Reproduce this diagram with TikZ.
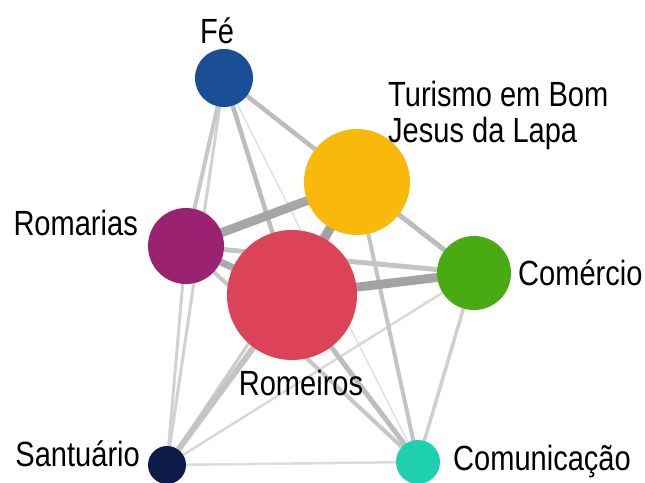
\documentclass[tikz,border=0pt]{standalone}
\usepackage{fontspec}
\setmainfont{Liberation Sans}[FakeStretch=0.83]
\usepackage{tikz}
\usetikzlibrary{backgrounds}
\usepackage{xcolor}
\definecolor{cfe}{HTML}{1A4F96}
\definecolor{ctur}{HTML}{F9B90A}
\definecolor{cria}{HTML}{9B2270}
\definecolor{crmo}{HTML}{DC4258}
\definecolor{ccme}{HTML}{4AAA12}
\definecolor{csan}{HTML}{0E1C4A}
\definecolor{ccmu}{HTML}{1ECFB0}

\begin{document}
\begin{tikzpicture}[x=1pt, y=-1pt,
    topic/.style={circle, inner sep=0pt, fill=#1},
    lbl/.style={inner sep=0pt, font=\fontsize{35}{36}\selectfont},
    tie/.style={line width=#1, line cap=butt}]
            \useasboundingbox (0,0) rectangle (645,482);
            % topics
            \node[topic=cfe, minimum size=58pt] (fe) at (224,78) {};
            \node[topic=ctur, minimum size=106pt] (tur) at (357,182) {};
            \node[topic=cria, minimum size=76pt] (ria) at (186,246) {};
            \node[topic=crmo, minimum size=130pt] (rmo) at (292,295) {};
            \node[topic=ccme, minimum size=74pt] (cme) at (474,273) {};
            \node[topic=csan, minimum size=38pt] (san) at (167,465) {};
            \node[topic=ccmu, minimum size=44pt] (cmu) at (418,462) {};
            % labels
            \node[lbl, anchor=base] (lfe) at (217,43) {Fé};
            \node[lbl, anchor=base west, align=left] (ltur) at (388,142) {Turismo em Bom\\Jesus da Lapa};
            \node[lbl, anchor=base east] (lria) at (138,235) {Romarias};
            \node[lbl, anchor=base] (lrmo) at (301,395) {Romeiros};
            \node[lbl, anchor=base west] (lcme) at (518,285) {Comércio};
            \node[lbl, anchor=base east] (lsan) at (140,466) {Santuário};
            \node[lbl, anchor=base west] (lcmu) at (453,470) {Comunicação};
            % ties
            \begin{pgfonlayer}{background}
            \draw[tie=1.5pt, black!12] (fe.center) -- (cmu.center);
            \draw[tie=2.5pt, black!15] (san.center) -- (cme.center);
            \draw[tie=2.5pt, black!14] (san.center) -- (cmu.center);
            \draw[tie=3pt, black!18] (ria.center) -- (san.center);
            \draw[tie=3pt, black!18] (fe.center) -- (san.center);
            \draw[tie=3.5pt, black!19] (cme.center) -- (cmu.center);
            \draw[tie=3pt, black!20] (tur.center) -- (san.center);
            \draw[tie=4pt, black!22] (ria.center) -- (cmu.center);
            \draw[tie=4pt, black!23] (tur.center) -- (cmu.center);
            \draw[tie=5pt, black!23] (ria.center) -- (cme.center);
            \draw[tie=6pt, black!23] (rmo.center) -- (san.center);
            \draw[tie=5pt, black!26] (rmo.center) -- (cmu.center);
            \draw[tie=4pt, black!22] (fe.center) -- (ria.center);
            \draw[tie=4.5pt, black!26] (fe.center) -- (rmo.center);
            \draw[tie=4.5pt, black!26] (fe.center) -- (tur.center);
            \draw[tie=5pt, black!26] (tur.center) -- (cme.center);
            \draw[tie=7pt, black!33] (ria.center) -- (rmo.center);
            \draw[tie=9pt, black!35] (tur.center) -- (ria.center);
            \draw[tie=9pt, black!37] (tur.center) -- (rmo.center);
            \draw[tie=9pt, black!36] (rmo.center) -- (cme.center);
            \end{pgfonlayer}
        \end{tikzpicture}
\end{document}
